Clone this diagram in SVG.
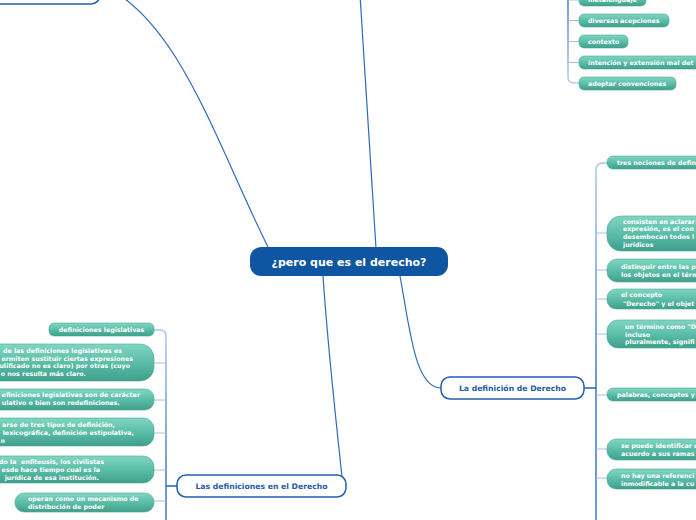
<svg xmlns="http://www.w3.org/2000/svg" width="696" height="520" viewBox="0 0 696 520">
<style>
.t{font-family:"DejaVu Sans",Verdana,sans-serif;font-weight:bold;font-size:6.3px;fill:#ffffff}
.s{font-family:"DejaVu Sans",Verdana,sans-serif;font-weight:bold;font-size:7.7px;fill:#1f5ba3}
.c{font-family:"DejaVu Sans",Verdana,sans-serif;font-weight:bold;font-size:11px;fill:#ffffff}
.leaf{fill:url(#teal);stroke:#4aa994;stroke-width:0.6}
.sec{fill:#ffffff;stroke:#2060ab;stroke-width:1.5}
.main{fill:none;stroke:#2e6ab8;stroke-width:1.2}
.br{fill:none;stroke:#a3c0e5;stroke-width:1}
</style>
<defs>
<linearGradient id="teal" x1="0" y1="0" x2="0" y2="1">
<stop offset="0" stop-color="#80d6c2"/>
<stop offset="0.55" stop-color="#58bba5"/>
<stop offset="1" stop-color="#3f9f8a"/>
</linearGradient>
<linearGradient id="vR" gradientUnits="userSpaceOnUse" x1="0" y1="160" x2="0" y2="520">
<stop offset="0" stop-color="#a9c5ea"/>
<stop offset="0.63" stop-color="#2d6cc0"/>
<stop offset="1" stop-color="#2d6cc0"/>
</linearGradient>
<linearGradient id="vL" gradientUnits="userSpaceOnUse" x1="0" y1="330" x2="0" y2="520">
<stop offset="0" stop-color="#a9c5ea"/>
<stop offset="0.8" stop-color="#2d6cc0"/>
<stop offset="1" stop-color="#2d6cc0"/>
</linearGradient>
<linearGradient id="vT" gradientUnits="userSpaceOnUse" x1="0" y1="0" x2="0" y2="85">
<stop offset="0" stop-color="#3a70c0"/>
<stop offset="1" stop-color="#b8cfee"/>
</linearGradient>
</defs>

<g id="connectors">
<path class="main" d="M268,247 C215,140 178,18 100,-16"/>
<path class="main" d="M376,248 L360,-5"/>
<path class="main" d="M400,276 C410,330 415,388 441,388"/>
<path class="main" d="M323,276 C328,350 336,420 342,477"/>
<path d="M584,388 H596" fill="none" stroke="#2d6cc0" stroke-width="1.6"/>
<path d="M596,520 V170 Q596,163 603,163 H607" fill="none" stroke="url(#vR)" stroke-width="1.4"/>
<path class="br" d="M596,233 H607 M596,270 H607 M596,299 H607 M596,334 H607 M596,395 H607 M596,449 H607 M596,478 H607"/>
<path d="M177,486 H166" fill="none" stroke="#2d6cc0" stroke-width="1.6"/>
<path d="M166,520 V336 Q166,330 160,330 H154" fill="none" stroke="url(#vL)" stroke-width="1.4"/>
<path class="br" d="M166,363 H154 M166,400 H154 M166,433 H154 M166,470 H154 M166,501 H154"/>
<path d="M568,-10 V77 Q568,83 574,83 H579" fill="none" stroke="url(#vT)" stroke-width="1.4"/>
<path class="br" d="M568,0 H579 M568,20.5 H579 M568,41.5 H579 M568,62.5 H579"/>
</g>

<g id="central">
<rect x="250" y="247" width="198" height="29" rx="11" fill="#0f56a2"/>
<text class="c" x="349" y="265.5" text-anchor="middle">¿pero que es el derecho?</text>
</g>

<g id="topLeftNode">
<rect class="sec" x="-50" y="-30" width="150" height="34" rx="9"/>
</g>

<g id="definicionDerecho">
<rect class="sec" x="441" y="377" width="143" height="22" rx="9"/>
<text class="s" x="512.5" y="391" text-anchor="middle">La definición de Derecho</text>
</g>

<g id="definicionesEnDerecho">
<rect class="sec" x="177" y="475" width="169" height="22" rx="9"/>
<text class="s" x="261.5" y="489" text-anchor="middle">Las definiciones en el Derecho</text>
</g>

<g id="metalenguaje">
<rect class="leaf" x="579" y="-7" width="67" height="13" rx="5"/>
<text class="t" x="588" y="2">metalenguaje</text>
</g>
<g id="acepciones">
<rect class="leaf" x="579" y="14" width="90" height="13" rx="5"/>
<text class="t" x="588" y="22.8">diversas acepciones</text>
</g>
<g id="contexto">
<rect class="leaf" x="579" y="35" width="49" height="13" rx="5"/>
<text class="t" x="588" y="43.8">contexto</text>
</g>
<g id="intencion">
<rect class="leaf" x="579" y="56" width="130" height="13" rx="5"/>
<text class="t" x="588" y="64.8">intención y extensión mal det</text>
</g>
<g id="convenciones">
<rect class="leaf" x="579" y="77" width="97" height="13" rx="5"/>
<text class="t" x="588" y="85.8">adoptar convenciones</text>
</g>

<g id="r1">
<rect class="leaf" x="607" y="156" width="120" height="13" rx="6"/>
<text class="t" x="617" y="165">tres nociones de defin</text>
</g>
<g id="r2">
<rect class="leaf" x="607" y="216" width="120" height="35" rx="14"/>
<text class="t" x="623" y="223.5">consisten en aclarar</text>
<text class="t" x="623" y="231.3">expresión, es el con</text>
<text class="t" x="623" y="239.1">desembocan todos l</text>
<text class="t" x="623" y="246.9">jurídicos</text>
</g>
<g id="r3">
<rect class="leaf" x="607" y="259" width="120" height="23" rx="10"/>
<text class="t" x="621" y="269">distinguir entre las p</text>
<text class="t" x="621" y="277">los objetos en el térm</text>
</g>
<g id="r4">
<rect class="leaf" x="607" y="289" width="120" height="20" rx="9"/>
<text class="t" x="621" y="297">el concepto</text>
<text class="t" x="623" y="306">"Derecho" y el objet</text>
</g>
<g id="r5">
<rect class="leaf" x="607" y="320" width="120" height="28" rx="11"/>
<text class="t" x="625" y="329">un término como "D</text>
<text class="t" x="625" y="336.5">incluso</text>
<text class="t" x="625" y="344">pluralmente, signifi</text>
</g>
<g id="r6">
<rect class="leaf" x="607" y="388" width="120" height="13" rx="6"/>
<text class="t" x="617" y="397">palabras, conceptos y</text>
</g>
<g id="r7">
<rect class="leaf" x="607" y="439" width="120" height="21" rx="9"/>
<text class="t" x="621" y="448">se puede identificar c</text>
<text class="t" x="621" y="456">acuerdo a sus ramas</text>
</g>
<g id="r8">
<rect class="leaf" x="607" y="469" width="120" height="20" rx="9"/>
<text class="t" x="621" y="477.5">no hay una referenci</text>
<text class="t" x="621" y="485.5">inmodificable a la cu</text>
</g>

<g id="l1">
<rect class="leaf" x="49" y="323" width="105" height="13" rx="5"/>
<text class="t" x="101.5" y="332" text-anchor="middle">definiciones legislativas</text>
</g>
<g id="l2">
<rect class="leaf" x="-20" y="344" width="174" height="37" rx="14"/>
<text class="t" x="122" y="353" text-anchor="end">de las definiciones legislativas es</text>
<text class="t" x="133" y="360.5" text-anchor="end">ermiten sustituir ciertas expresiones</text>
<text class="t" x="130" y="368" text-anchor="end">ulificado no es claro) por otras (cuyo</text>
<text class="t" x="86" y="376" text-anchor="end">o nos resulta más claro.</text>
</g>
<g id="l3">
<rect class="leaf" x="-20" y="389" width="174" height="21" rx="9"/>
<text class="t" x="140" y="397" text-anchor="end">efiniciones legislativas son de carácter</text>
<text class="t" x="120" y="405" text-anchor="end">ulativo o bien son redefiniciones.</text>
</g>
<g id="l4">
<rect class="leaf" x="-20" y="418" width="174" height="28" rx="11"/>
<text class="t" x="115" y="427" text-anchor="end">arse de tres tipos de definición,</text>
<text class="t" x="134" y="435" text-anchor="end">lexicográfica, definición estipulativa,</text>
<text class="t" x="5" y="443" text-anchor="end">n</text>
</g>
<g id="l5">
<rect class="leaf" x="-20" y="456" width="174" height="27" rx="11"/>
<text class="t" x="104" y="464" text-anchor="end" style="white-space:pre">do la  enfiteusis, los civilistas</text>
<text class="t" x="100" y="472" text-anchor="end">esde hace tiempo cual es la</text>
<text class="t" x="99" y="480" text-anchor="end">jurídica de esa institución.</text>
</g>
<g id="l6">
<rect class="leaf" x="15" y="493" width="139" height="19" rx="9"/>
<text class="t" x="28" y="501">operan como un mecanismo de</text>
<text class="t" x="28" y="509">distribución de poder</text>
</g>
</svg>
